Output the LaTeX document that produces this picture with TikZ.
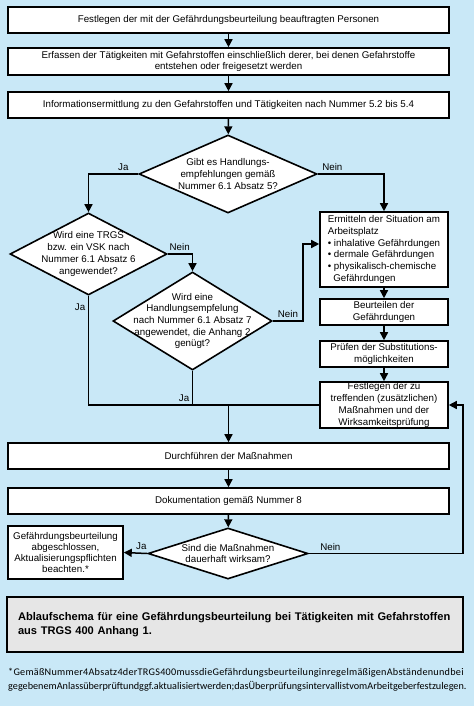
\documentclass[tikz,border=0pt]{standalone}
\usepackage{fontspec}
\setmainfont{Liberation Sans}
\newfontfamily\notefont{Carlito}
\newfontfamily\notefontwide[LetterSpace=2.5]{Carlito}
\usetikzlibrary{shapes.geometric, arrows.meta}
\definecolor{bgblue}{RGB}{201,232,247}
\definecolor{capgrey}{RGB}{230,230,230}

\begin{document}
\begin{tikzpicture}[x=1pt, y=-1pt,
    box/.style={draw, line width=1.6pt, fill=white, inner sep=0pt, align=center, font=\fontsize{9.75}{11.7}\selectfont},
    dia/.style={draw, diamond, line width=1.6pt, fill=white, inner sep=0pt},
    dtext/.style={align=center, inner sep=0pt, font=\fontsize{9.75}{11.7}\selectfont},
    lab/.style={inner sep=2.5pt, font=\fontsize{9.75}{11.7}\selectfont},
    ln/.style={line width=1.5pt},
    arr/.style={line width=1.5pt, -{Triangle[length=8pt, width=8pt]}}]
  \fill[bgblue] (0,0) rectangle (474,706);
  \useasboundingbox (0,0) rectangle (474,706);

  \node[box, minimum width=441, minimum height=26] (pers) at (228.5,20) {Festlegen der mit der Gefährdungsbeurteilung beauftragten Personen};
  \node[box, minimum width=441, minimum height=27] (erf) at (228.5,61.5) {Erfassen der Tätigkeiten mit Gefahrstoffen einschließlich derer, bei denen Gefahrstoffe\\entstehen oder freigesetzt werden};
  \node[box, minimum width=441, minimum height=26] (info) at (228.5,105) {Informationsermittlung zu den Gefahrstoffen und Tätigkeiten nach Nummer 5.2 bis 5.4};

  \node[dia, minimum width=178, minimum height=78] (d1) at (228,174) {};
  \node[dtext] at (d1) {Gibt es Handlungs-\\empfehlungen gemäß\\Nummer 6.1 Absatz 5?};
  \node[dia, minimum width=157, minimum height=82] (d2) at (88.5,254) {};
  \node[dtext] at (d2) {Wird eine TRGS\\bzw. ein VSK nach\\Nummer 6.1 Absatz 6\\angewendet?};
  \node[dia, minimum width=159, minimum height=98] (d3) at (192.5,321) {};
  \node[dtext] at (d3) {Wird eine\\Handlungsempfelung\\nach Nummer 6.1 Absatz 7\\angewendet, die Anhang 2\\genügt?};

  \node[box, align=left, minimum width=128, minimum height=75] (erm) at (384,249.5) {Ermitteln der Situation am\\Arbeitsplatz\\\textbullet\ inhalative Gefährdungen\\\textbullet\ dermale Gefährdungen\\\textbullet\ physikalisch-chemische\\\hspace*{5.5pt}Gefährdungen};
  \node[box, minimum width=128, minimum height=26] (beur) at (384,312) {Beurteilen der\\Gefährdungen};
  \node[box, minimum width=128, minimum height=26] (pruef) at (384,354) {Prüfen der Substitutions-\\möglichkeiten};
  \node[box, minimum width=128, minimum height=46] (fest) at (384,405) {Festlegen der zu\\treffenden (zusätzlichen)\\Maßnahmen und der\\Wirksamkeitsprüfung};

  \node[box, minimum width=441, minimum height=26] (durch) at (228.5,456) {Durchführen der Maßnahmen};
  \node[box, minimum width=441, minimum height=26] (doku) at (228.5,501) {Dokumentation gemäß Nummer 8};

  \node[dia, minimum width=160, minimum height=51] (d4) at (228,553.5) {};
  \node[dtext] at (d4) {Sind die Maßnahmen\\dauerhaft wirksam?};
  \node[box, minimum width=115, minimum height=53, font=\fontsize{9.75}{10.8}\selectfont] (fin) at (65.5,552.5) {Gefährdungsbeurteilung\\abgeschlossen,\\Aktualisierungspflichten\\beachten.*};

  \node[draw, line width=1.8pt, fill=capgrey, minimum width=456, minimum height=55, text width=434, align=left, inner sep=0pt, font=\bfseries\fontsize{11.1}{14}\selectfont] (cap) at (235,624.5) {Ablaufschema für eine Gefährdungsbeurteilung bei Tätigkeiten mit Gefahrstoffen\\aus TRGS 400 Anhang 1.};
  \node[anchor=west, align=left, inner sep=0pt, font=\fontsize{10.2}{14.5}\selectfont] (note) at (8,679.5) {\notefontwide*GemäßNummer4Absatz4derTRGS400mussdieGefährdungsbeurteilunginregelmäßigenAbständenundbei\\\notefont gegebenemAnlassüberprüftundggf.aktualisiertwerden;dasÜberprüfungsintervallistvomArbeitgeberfestzulegen.};

  \coordinate (nk) at (303,0);
  \coordinate (rk) at (463,0);

  \draw[arr] (pers) -- (erf);
  \draw[arr] (erf) -- (info);
  \draw[arr] (info) -- (d1);
  \draw[arr] (d1.west) -| (d2.north) node[lab, pos=0.15, above] {Ja};
  \draw[arr] (d1.east) -| (erm.north) node[lab, pos=0.11, above] {Nein};
  \draw[arr] (d2.east) -| (d3.north) node[lab, pos=0.24, above] {Nein};
  \draw[ln] (d2.south) |- (fest.west) node[lab, pos=0.05, left] {Ja};
  \draw[ln] (d3.south) -- (d3.south |- fest.west) node[lab, pos=1, above left] {Ja};
  \draw[arr] (d3.east) -- (d3.east -| nk) node[lab, midway, above] {Nein} |- ([yshift=5.5pt]erm.west);
  \draw[arr] (erm) -- (beur);
  \draw[arr] (beur) -- (pruef);
  \draw[arr] (pruef) -- (fest);
  \draw[arr] (durch.north |- fest.west) -- (durch);
  \draw[arr] (durch) -- (doku);
  \draw[arr] (doku) -- (d4);
  \draw[arr] (d4.west) -- (fin.east) node[lab, pos=0.25, above] {Ja};
  \draw[arr] (d4.east) -- (d4.east -| rk) node[lab, pos=0.14, above] {Nein} |- (fest.east);
\end{tikzpicture}
\end{document}
